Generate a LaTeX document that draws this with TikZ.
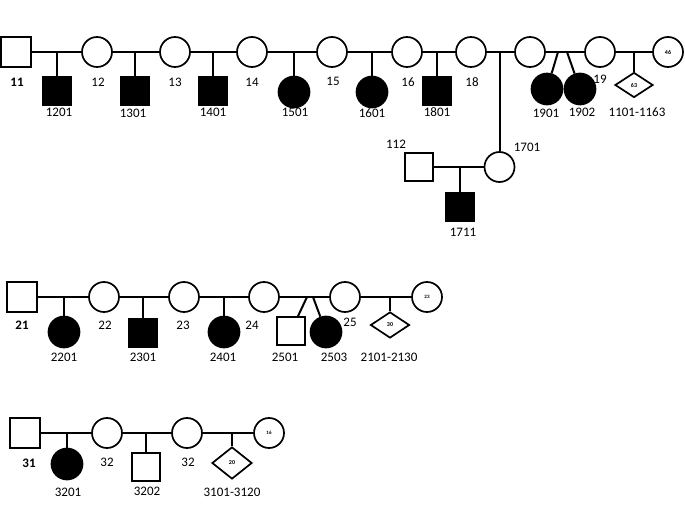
\documentclass[tikz,border=0pt]{standalone}
\usepackage{fontspec}
\setmainfont{Carlito}
\usepackage{tikz}
\usetikzlibrary{shapes.geometric, positioning}

\begin{document}
\begin{tikzpicture}[
                x=1pt, y=-1pt,
                male/.style={rectangle, draw=black, line width=1.7pt, fill=white, minimum size=30pt, inner sep=0pt},
                female/.style={circle, draw=black, line width=1.7pt, fill=white, minimum size=30pt, inner sep=0pt},
                kid/.style={minimum size=28pt},
                aff/.style={fill=black},
                unkn/.style={diamond, draw=black, line width=1.7pt, fill=white, inner sep=0pt, font=\fontsize{6}{7}\selectfont\bfseries},
                lbl/.style={inner sep=0pt, font=\fontsize{13}{15}\selectfont},
                line/.style={line width=2pt, draw=black}
            ]
                \useasboundingbox (0,0) rectangle (685,513);

                % family 1
                \node (p11) [male] at (16,52) {};
                \node (p12) [female] at (97,52) {};
                \node (p13) [female] at (175,52) {};
                \node (p14) [female] at (252,52) {};
                \node (p15) [female] at (332,52) {};
                \node (p16) [female] at (407,52) {};
                \node (p18) [female] at (471,52) {};
                \node (w18) [female] at (530,52) {};
                \node (p19) [female] at (600,52) {};
                \node (p46) [female, font=\fontsize{6}{7}\selectfont\bfseries] at (668,52) {46};

                \node (c1201) [male, kid, aff] at (57,91) {};
                \node (c1301) [male, kid, aff] at (135,91) {};
                \node (c1401) [male, kid, aff] at (213,91) {};
                \node (c1501) [female, kid, aff, minimum size=31pt] at (294,92) {};
                \node (c1601) [female, kid, aff, minimum size=31pt] at (372,92) {};
                \node (c1801) [male, kid, aff] at (437,91) {};
                \node (c1901) [female, kid, aff, minimum size=31pt] at (547,89) {};
                \node (c1902) [female, kid, aff, minimum size=31pt] at (580,89) {};
                \node (d63) [unkn, minimum width=38pt, minimum height=25pt] at (634,85) {63};
                \node (c1701) [female] at (499.5,167) {};
                \node (p112) [male, kid] at (419,167) {};
                \node (c1711) [male, kid, aff] at (460,207) {};
                \coordinate (tw19a) at (558,52);
                \coordinate (tw19b) at (567,52);

                \draw [line] (p11) -- (p12);
                \draw [line] (p12) -- (p13);
                \draw [line] (p13) -- (p14);
                \draw [line] (p14) -- (p15);
                \draw [line] (p15) -- (p16);
                \draw [line] (p16) -- (p18);
                \draw [line] (p18) -- (w18);
                \draw [line] (w18) -- (p19);
                \draw [line] (p19) -- (p46);
                \draw [line] (c1201) -- (c1201 |- p11);
                \draw [line] (c1301) -- (c1301 |- p12);
                \draw [line] (c1401) -- (c1401 |- p13);
                \draw [line] (c1501) -- (c1501 |- p14);
                \draw [line] (c1601) -- (c1601 |- p15);
                \draw [line] (c1801) -- (c1801 |- p16);
                \draw [line] (c1701) -- (c1701 |- p18);
                \draw [line] (tw19a) -- (c1901);
                \draw [line] (tw19b) -- (c1902);
                \draw [line] (d63) -- (d63 |- p19);
                \draw [line] (p112) -- (c1701);
                \draw [line] (c1711) -- (c1711 |- p112);

                \node (t11) [lbl, font=\fontsize{13}{15}\selectfont\bfseries] at (17,82) {11};
                \node (t12) [lbl] at (98,82) {12};
                \node (t13) [lbl] at (175,82) {13};
                \node (t14) [lbl] at (252,82) {14};
                \node (t15) [lbl] at (333,81) {15};
                \node (t16) [lbl] at (408,82) {16};
                \node (t18) [lbl] at (472,82) {18};
                \node (t19) [lbl] at (600,79) {19};
                \node (t1201) [lbl] at (59,112) {1201};
                \node (t1301) [lbl] at (133,113) {1301};
                \node (t1401) [lbl] at (213,112) {1401};
                \node (t1501) [lbl] at (295,112) {1501};
                \node (t1601) [lbl] at (372,113) {1601};
                \node (t1801) [lbl] at (437,112) {1801};
                \node (t1901) [lbl] at (546,113) {1901};
                \node (t1902) [lbl] at (582,112) {1902};
                \node (t1101) [lbl] at (637,112) {1101-1163};
                \node (t112) [lbl] at (396,144) {112};
                \node (t1701) [lbl] at (527,147) {1701};
                \node (t1711) [lbl] at (463,232) {1711};

                % family 2
                \node (p21) [male] at (22,297) {};
                \node (p22) [female] at (104,297) {};
                \node (p23) [female] at (184,297) {};
                \node (p24) [female] at (264,297) {};
                \node (p25) [female] at (345,297) {};
                \node (p23b) [female, font=\fontsize{5}{6}\selectfont\bfseries] at (427,297) {23};

                \node (c2201) [female, kid, aff, minimum size=31pt] at (64,332) {};
                \node (c2301) [male, kid, aff] at (143,333) {};
                \node (c2401) [female, kid, aff, minimum size=31pt] at (224,332) {};
                \node (c2501) [male, kid] at (291,331) {};
                \node (c2503) [female, kid, aff, minimum size=31pt] at (326,332) {};
                \node (d30) [unkn, minimum width=39pt, minimum height=26pt] at (390,325) {30};
                \coordinate (tw25a) at (307,297);
                \coordinate (tw25b) at (313,297);

                \draw [line] (p21) -- (p22);
                \draw [line] (p22) -- (p23);
                \draw [line] (p23) -- (p24);
                \draw [line] (p24) -- (p25);
                \draw [line] (p25) -- (p23b);
                \draw [line] (c2201) -- (c2201 |- p21);
                \draw [line] (c2301) -- (c2301 |- p22);
                \draw [line] (c2401) -- (c2401 |- p23);
                \draw [line] (tw25a) -- (c2501);
                \draw [line] (tw25b) -- (c2503);
                \draw [line] (d30) -- (d30 |- p25);

                \node (t21) [lbl, font=\fontsize{13}{15}\selectfont\bfseries] at (22,325) {21};
                \node (t22) [lbl] at (105,325) {22};
                \node (t23) [lbl] at (183,325) {23};
                \node (t24) [lbl] at (252,325) {24};
                \node (t25) [lbl] at (350,322) {25};
                \node (t2201) [lbl] at (64,357) {2201};
                \node (t2301) [lbl] at (143,357) {2301};
                \node (t2401) [lbl] at (223,357) {2401};
                \node (t2501) [lbl] at (285,357) {2501};
                \node (t2503) [lbl] at (334,357) {2503};
                \node (t2101) [lbl] at (389,357) {2101-2130};

                % family 3
                \node (p31) [male] at (25,433) {};
                \node (p32a) [female] at (107,433) {};
                \node (p32b) [female] at (187,433) {};
                \node (p16b) [female, font=\fontsize{5}{6}\selectfont\bfseries] at (269,433) {16};

                \node (c3201) [female, kid, aff, minimum size=31pt] at (67,464) {};
                \node (c3202) [male, kid] at (146,467) {};
                \node (d20) [unkn, minimum width=40pt, minimum height=32pt] at (232,463) {20};

                \draw [line] (p31) -- (p32a);
                \draw [line] (p32a) -- (p32b);
                \draw [line] (p32b) -- (p16b);
                \draw [line] (c3201) -- (c3201 |- p31);
                \draw [line] (c3202) -- (c3202 |- p32a);
                \draw [line] (d20) -- (d20 |- p16b);

                \node (t31) [lbl, font=\fontsize{13}{15}\selectfont\bfseries] at (29,463) {31};
                \node (t32a) [lbl] at (107,462) {32};
                \node (t32b) [lbl] at (188,462) {32};
                \node (t3201) [lbl] at (68,492) {3201};
                \node (t3202) [lbl] at (147,491) {3202};
                \node (t3101) [lbl] at (232,492) {3101-3120};
            \end{tikzpicture}
\end{document}
